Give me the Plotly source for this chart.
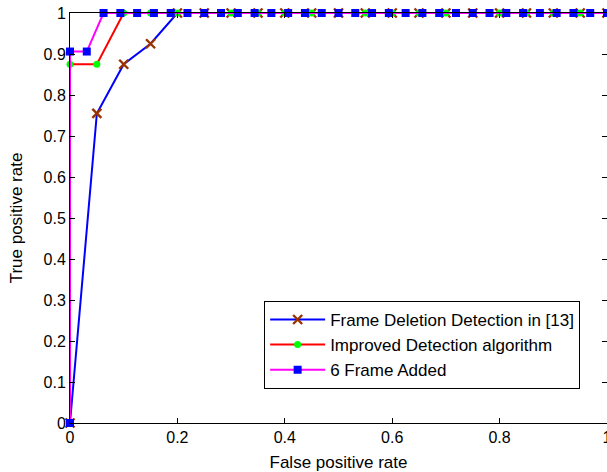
import plotly.graph_objects as go

# ROC curves: false positive rate vs true positive rate
fpr_ref = [0.0, 0.05, 0.1, 0.15, 0.2, 0.25, 0.3, 0.35, 0.4, 0.45, 0.5,
           0.55, 0.6, 0.65, 0.7, 0.75, 0.8, 0.85, 0.9, 0.95, 1.0]
tpr_ref = [0.0, 0.755, 0.875, 0.925, 1.0, 1.0, 1.0, 1.0, 1.0, 1.0, 1.0,
           1.0, 1.0, 1.0, 1.0, 1.0, 1.0, 1.0, 1.0, 1.0, 1.0]

fpr_improved = [0.0, 0.0, 0.05, 0.1, 0.15, 0.2, 0.25, 0.3, 0.35, 0.4, 0.45, 0.5,
                0.55, 0.6, 0.65, 0.7, 0.75, 0.8, 0.85, 0.9, 0.95, 1.0]
tpr_improved = [0.0, 0.875, 0.875, 1.0, 1.0, 1.0, 1.0, 1.0, 1.0, 1.0, 1.0, 1.0,
                1.0, 1.0, 1.0, 1.0, 1.0, 1.0, 1.0, 1.0, 1.0, 1.0]

fpr_added = [0.0, 0.0, 0.03125, 0.0625, 0.09375, 0.125, 0.15625, 0.1875, 0.21875,
             0.25, 0.28125, 0.3125, 0.34375, 0.375, 0.40625, 0.4375, 0.46875,
             0.5, 0.53125, 0.5625, 0.59375, 0.625, 0.65625, 0.6875, 0.71875,
             0.75, 0.78125, 0.8125, 0.84375, 0.875, 0.90625, 0.9375, 0.96875, 1.0]
tpr_added = [0.0, 0.906, 0.906] + [1.0] * 31

series_names = ["Frame Deletion Detection in [13]",
                "Improved Detection algorithm",
                "6 Frame Added"]

x_ticks = [0, 0.2, 0.4, 0.6, 0.8, 1]
y_ticks = [0, 0.1, 0.2, 0.3, 0.4, 0.5, 0.6, 0.7, 0.8, 0.9, 1]

font_family = "Liberation Sans, Arial, sans-serif"

fig = go.Figure()
fig.add_trace(go.Scatter(
    x=fpr_ref, y=tpr_ref, name=series_names[0], mode="lines+markers",
    line=dict(color="#0000FF", width=2),
    marker=dict(symbol="x-thin", size=9, color="#993300",
                line=dict(color="#993300", width=2.4)),
    cliponaxis=False,
))
fig.add_trace(go.Scatter(
    x=fpr_improved, y=tpr_improved, name=series_names[1], mode="lines+markers",
    line=dict(color="#FF0000", width=2),
    marker=dict(symbol="circle", size=7, color="#00FF00"),
    cliponaxis=False,
))
fig.add_trace(go.Scatter(
    x=fpr_added, y=tpr_added, name=series_names[2], mode="lines+markers",
    line=dict(color="#FF00FF", width=2),
    marker=dict(symbol="square", size=8, color="#0000FF"),
    cliponaxis=False,
))

axis_common = dict(
    showgrid=False, zeroline=False, showline=True, linecolor="black",
    linewidth=1, mirror="ticks", ticks="inside", ticklen=5,
    tickcolor="black", automargin=False, ticklabeloverflow="allow",
    tickfont=dict(family=font_family, size=16, color="black"),
)

fig.update_layout(
    width=607, height=472,
    margin=dict(l=70, r=0, t=13, b=49),
    paper_bgcolor="white", plot_bgcolor="white",
    font=dict(family=font_family, color="black"),
    xaxis=dict(range=[0, 1], tickvals=x_ticks,
               ticktext=[f"{v:g}" for v in x_ticks],
               title=dict(text="False positive rate", standoff=10,
                          font=dict(family=font_family, size=17)),
               **axis_common),
    yaxis=dict(range=[0, 1], tickvals=y_ticks,
               ticktext=[f"{v:g}" for v in y_ticks],
               title=dict(text="True positive rate", standoff=16,
                          font=dict(family=font_family, size=17)),
               **axis_common),
    legend=dict(
        x=0.95, y=0.083, xanchor="right", yanchor="bottom",
        bgcolor="white", bordercolor="black", borderwidth=1,
        font=dict(family=font_family, size=17, color="black"),
        tracegroupgap=0, itemwidth=55,
    ),
    showlegend=True,
)

fig.write_html("out.html")
